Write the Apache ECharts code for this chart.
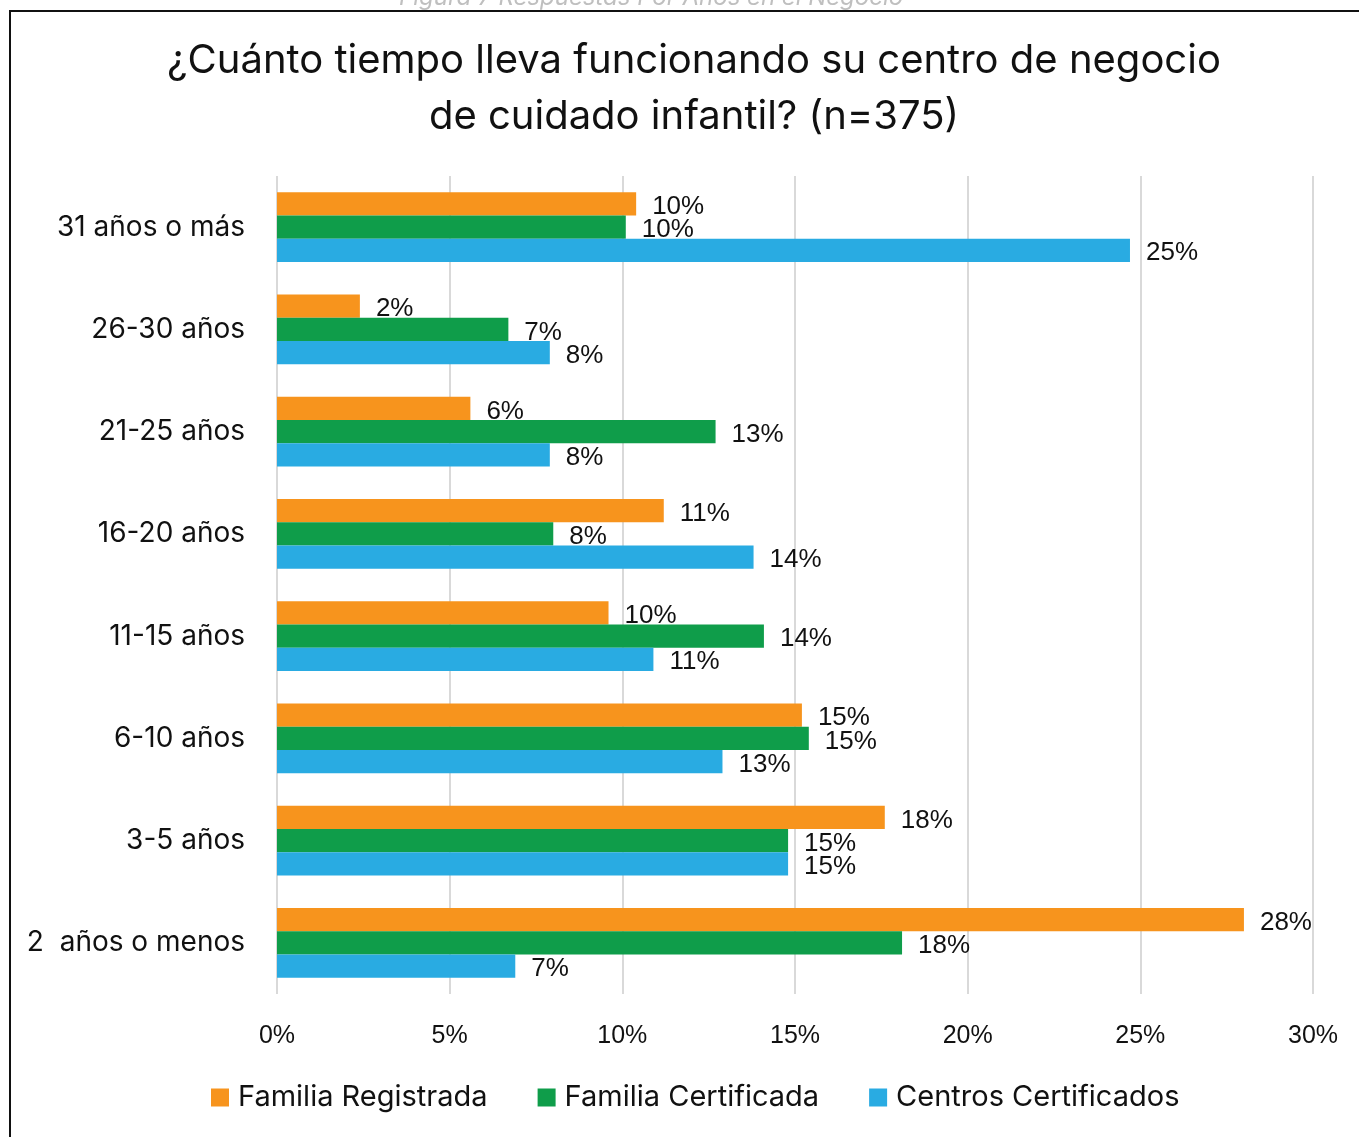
<!DOCTYPE html>
<html>
<head>
<meta charset="utf-8">
<script src="https://cdn.jsdelivr.net/npm/echarts@6/dist/echarts.min.js"></script>
<style>
  html, body { margin: 0; padding: 0; background: #fff; }
  #chart { width: 1359px; height: 1137px; }
</style>
</head>
<body>
<div id="chart"></div>
<script>
// categorías (de arriba hacia abajo)
const categories = ['31 años o más', '26-30 años', '21-25 años', '16-20 años', '11-15 años', '6-10 años', '3-5 años', '2  años o menos']
const seriesNames = ['Familia Registrada', 'Familia Certificada', 'Centros Certificados']
const familiaRegistrada = [10.4, 2.4, 5.6, 11.2, 9.6, 15.2, 17.6, 28.0]
const familiaCertificada = [10.1, 6.7, 12.7, 8.0, 14.1, 15.4, 14.8, 18.1]
const centrosCertificados = [24.7, 7.9, 7.9, 13.8, 10.9, 12.9, 14.8, 6.9]
const colors = ['#f7941d', '#0f9d4a', '#29abe2']

const chart = echarts.init(document.getElementById('chart'))

const catFont = 'Inter, "Open Sans", sans-serif'
const numFont = '"Liberation Sans", Arial, sans-serif'

const makeSeries = (name, data, color) => ({
	name,
	type: 'bar',
	data,
	barGap: '0%',
	barCategoryGap: '32%',
	itemStyle: { color },
	label: {
		show: true,
		position: 'right',
		distance: 16,
		offset: [0, 3],
		color: '#111',
		fontSize: 26,
		fontFamily: numFont,
		formatter: p => Math.round(p.value) + '%',
	},
})

chart.setOption({
	animation: false,
	title: {
		text: '¿Cuánto tiempo lleva funcionando su centro de negocio\nde cuidado infantil? (n=375)',
		left: 689,
		textAlign: 'center',
		top: 28,
		textStyle: {
			fontFamily: catFont,
			fontWeight: 'normal',
			fontSize: 40,
			lineHeight: 56,
			color: '#111',
		},
	},
	legend: {
		bottom: 20,
		left: 206,
		itemWidth: 18,
		itemHeight: 18,
		itemGap: 50,
		icon: 'rect',
		textStyle: { fontFamily: catFont, fontSize: 29, color: '#111', padding: [0, 0, 0, 4] },
		data: seriesNames,
	},
	grid: { left: 277, right: 46, top: 176, bottom: 143, containLabel: false },
	xAxis: {
		type: 'value',
		min: 0,
		max: 30,
		interval: 5,
		axisLine: { show: false },
		axisTick: { show: false },
		splitLine: { lineStyle: { color: '#d9d9d9', width: 2 } },
		axisLabel: {
			formatter: '{value}%',
			margin: 30,
			fontSize: 25,
			fontFamily: numFont,
			color: '#111',
		},
	},
	yAxis: {
		type: 'category',
		inverse: true,
		data: categories,
		axisLine: { show: false },
		axisTick: { show: false },
		axisLabel: { margin: 32, fontSize: 28, fontFamily: catFont, color: '#111' },
	},
	series: [
		makeSeries(seriesNames[0], familiaRegistrada, colors[0]),
		makeSeries(seriesNames[1], familiaCertificada, colors[1]),
		makeSeries(seriesNames[2], centrosCertificados, colors[2]),
	],
	graphic: [
		{
			type: 'text',
			left: 689 - 290,
			top: -14,
			style: {
				text: 'Figura 7 Respuestas Por Años en el Negocio',
				fontSize: 24,
				fontStyle: 'italic',
				fontFamily: catFont,
				fill: '#bfbfbf',
			},
		},
		{
			type: 'rect',
			shape: { x: 10, y: 11, width: 1360, height: 1140 },
			style: { fill: 'none', stroke: '#111', lineWidth: 2 },
		},
	],
})
</script>
</body>
</html>
